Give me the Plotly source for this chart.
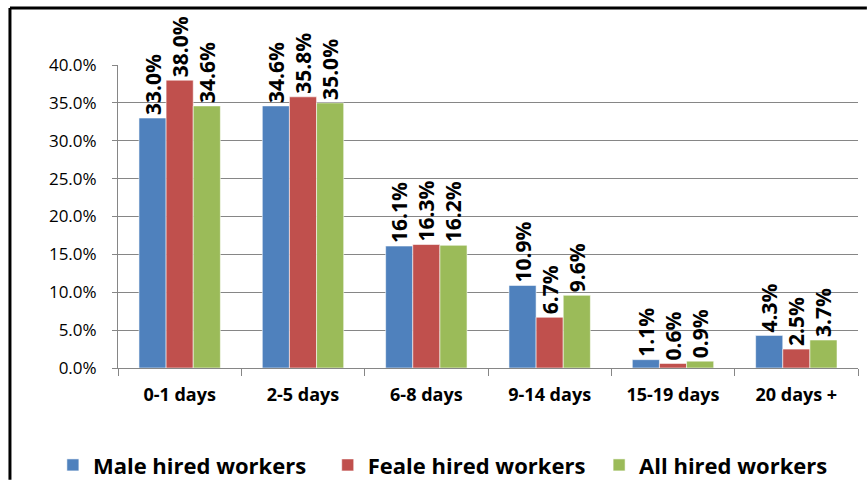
import plotly.graph_objects as go

categories = ["0-1 days", "2-5 days", "6-8 days", "9-14 days", "15-19 days", "20 days +"]
male = [33.0, 34.6, 16.1, 10.9, 1.1, 4.3]
female = [38.0, 35.8, 16.3, 6.7, 0.6, 2.5]
all_workers = [34.6, 35.0, 16.2, 9.6, 0.9, 3.7]
y_ticks = [0, 5, 10, 15, 20, 25, 30, 35, 40]

series = [
    ("Male hired workers", male, "#4F81BD", "legend"),
    ("Feale hired workers", female, "#C0504D", "legend2"),
    ("All hired workers", all_workers, "#9BBB59", "legend3"),
]

FONT = "'Open Sans', Lato, sans-serif"

fig = go.Figure()
for name, vals, color, leg in series:
    fig.add_trace(go.Bar(
        x=categories, y=vals, name=name, legend=leg,
        marker=dict(color=color, line=dict(color="rgba(255,255,255,0.7)", width=0.8)),
        texttemplate="%{y:.1f}%", textposition="outside", textangle=-90,
        constraintext="none", cliponaxis=False,
        textfont=dict(family=FONT, size=21, color="black", weight="bold"),
    ))


def legend_at(x):
    # one single-entry legend per series, laid out in a row under the axis
    return dict(orientation="h", xref="container", x=x, xanchor="left",
                yref="container", y=0.031, yanchor="middle",
                font=dict(family=FONT, size=22, color="black", weight="bold"),
                itemwidth=30, bgcolor="rgba(0,0,0,0)")


fig.update_layout(
    width=867, height=480,
    margin=dict(l=118, r=9, t=65, b=112, autoexpand=False),
    paper_bgcolor="white", plot_bgcolor="white",
    barmode="group", bargap=0.34, bargroupgap=0,
    showlegend=True,
    legend=legend_at(0.061),
    legend2=legend_at(0.378),
    legend3=legend_at(0.691),
    xaxis=dict(showline=True, linecolor="#868686", linewidth=1,
               ticks="outside", tickson="boundaries", ticklen=7, tickcolor="#868686",
               ticklabelstandoff=10,
               tickfont=dict(family=FONT, size=18, color="black", weight="bold"),
               showgrid=False),
    yaxis=dict(range=[0, 40], tickvals=y_ticks, ticktext=[f"{v:.1f}%" for v in y_ticks],
               showline=True, linecolor="#868686", linewidth=1,
               ticks="outside", ticklen=5, tickcolor="#868686",
               ticklabelstandoff=12,
               gridcolor="#868686", gridwidth=1,
               tickfont=dict(family=FONT, size=17, color="black"),
               zeroline=False),
    shapes=[
        # outer frame: left and top edges, kept inside the figure
        dict(type="line", xref="paper", yref="paper", x0=-0.146, x1=-0.146, y0=-0.369, y1=1.188,
             line=dict(color="black", width=3), layer="above"),
        dict(type="line", xref="paper", yref="paper", x0=-0.146, x1=1.012, y0=1.188, y1=1.188,
             line=dict(color="black", width=3), layer="above"),
    ],
)

fig.write_html("out.html")
